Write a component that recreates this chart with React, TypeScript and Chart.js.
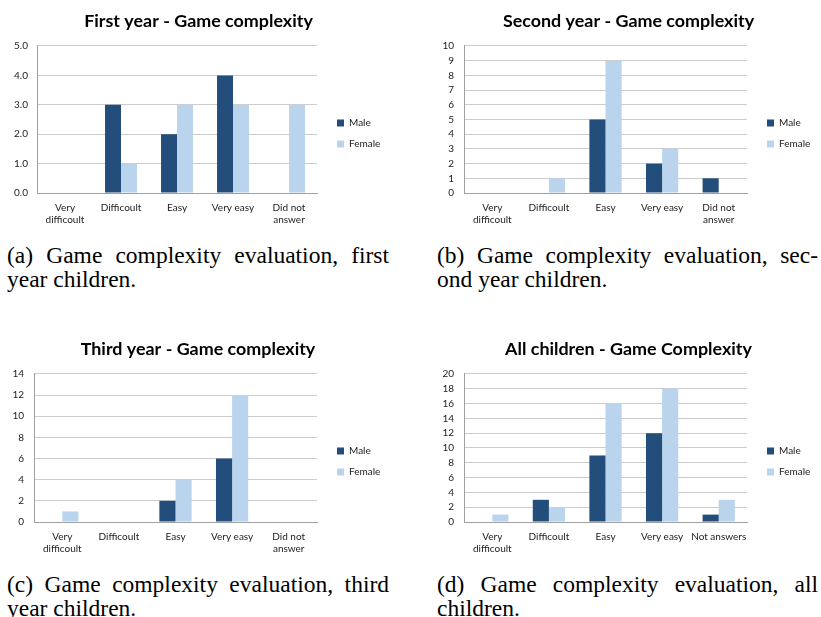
import React, { useEffect, useRef } from 'react';
import { Chart, registerables } from 'chart.js';

Chart.register(...registerables);

// ---------- data ----------
const CATEGORIES: (string | string[])[] = [['Very', 'difficoult'], 'Difficoult', 'Easy', 'Very easy', ['Did not', 'answer']];
const CATEGORIES_ALL: (string | string[])[] = [['Very', 'difficoult'], 'Difficoult', 'Easy', 'Very easy', 'Not answers'];
const SERIES_NAMES = ['Male', 'Female'];

const MALE_FIRST = [0, 3, 2, 4, 0];
const FEMALE_FIRST = [0, 1, 3, 3, 3];
const MALE_SECOND = [0, 0, 5, 2, 1];
const FEMALE_SECOND = [0, 1, 9, 3, 0];
const MALE_THIRD = [0, 0, 2, 6, 0];
const FEMALE_THIRD = [1, 0, 4, 12, 0];
const MALE_ALL = [0, 3, 9, 12, 1];
const FEMALE_ALL = [1, 2, 16, 18, 3];

const TITLES = [
  'First year - Game complexity',
  'Second year - Game complexity',
  'Third year - Game complexity',
  'All children - Game Complexity',
];
const Y_MAX = [5, 10, 14, 20];
const Y_STEP = [1, 1, 2, 2];
const Y_DECIMALS = [1, 0, 0, 0];

const CAPTIONS: [string, string][] = [
  ['(a) Game complexity evaluation, first', 'year children.'],
  ['(b) Game complexity evaluation, sec-', 'ond year children.'],
  ['(c) Game complexity evaluation, third', 'year children.'],
  ['(d) Game complexity evaluation, all', 'children.'],
];

// ---------- style ----------
const MALE_COLOR = '#234d7a';
const FEMALE_COLOR = '#b9d4ec';
const GRID_COLOR = '#cccccc';
const AXIS_COLOR = '#a0a0a0';
const TEXT_COLOR = '#222222';
const FONT = 'Lato, "Open Sans", sans-serif';
const LEG_PAD = 11;
const LEG_FS = 10;

const legendFix: any = {
  id: 'legendFix',
  beforeLayout(chart: any, _args: any, opts: any) {
    const lg = chart.legend;
    if (lg && !lg.__fixed) {
      const orig = lg.fit.bind(lg);
      lg.fit = function () {
        orig();
        lg.width = opts.width;
      };
      lg.__fixed = true;
    }
  },
  afterLayout(chart: any, _args: any, opts: any) {
    const lg = chart.legend;
    const ca = chart.chartArea;
    if (!lg || !ca) return;
    lg.left = ca.right + opts.dx - LEG_PAD;
    lg.right = lg.left + opts.width;
    const top = opts.cy - LEG_PAD - LEG_FS / 2;
    lg.top = top;
    lg.bottom = top + 200;
  },
};

interface PanelProps {
  idx: number;
  labels: (string | string[])[];
  male: number[];
  female: number[];
  left: number;
  top: number;
  width: number;
  height: number;
  yWidth: number;
  yPad: number;
  plotRight: number;
  xAxisH: number;
}

function Panel(p: PanelProps) {
  const ref = useRef<HTMLCanvasElement | null>(null);
  useEffect(() => {
    if (!ref.current) return;
    const legendW = p.left + p.width - p.plotRight;
    const dec = Y_DECIMALS[p.idx];
    const chart = new Chart(ref.current, {
      type: 'bar',
      data: {
        labels: p.labels as any,
        datasets: [
          {
            label: SERIES_NAMES[0],
            data: p.male,
            backgroundColor: MALE_COLOR,
            categoryPercentage: 0.57,
            barPercentage: 1,
          },
          {
            label: SERIES_NAMES[1],
            data: p.female,
            backgroundColor: FEMALE_COLOR,
            categoryPercentage: 0.57,
            barPercentage: 1,
          },
        ],
      },
      options: {
        responsive: false,
        animation: false,
        devicePixelRatio: 1,
        layout: { padding: 0 },
        plugins: {
          title: {
            display: true,
            text: TITLES[p.idx],
            color: '#000000',
            font: { family: FONT, size: 17.9, weight: 'bold' },
            padding: { top: 10.3, bottom: 14.2 },
          },
          legend: {
            position: 'right',
            align: 'start',
            labels: {
              boxWidth: 7,
              boxHeight: 7,
              padding: LEG_PAD,
              color: TEXT_COLOR,
              font: { family: FONT, size: LEG_FS },
            },
          },
          tooltip: { enabled: false },
          legendFix: { width: legendW, dx: 20, cy: 123 },
        } as any,
        scales: {
          x: {
            grid: { display: false, drawTicks: false },
            border: { display: true, color: AXIS_COLOR },
            ticks: {
              color: TEXT_COLOR,
              font: { family: FONT, size: 10 },
              padding: 9,
              maxRotation: 0,
              autoSkip: false,
            },
            afterFit: (s: any) => {
              s.height = p.xAxisH;
            },
          },
          y: {
            min: 0,
            max: Y_MAX[p.idx],
            grid: { color: GRID_COLOR, drawTicks: false },
            border: { display: true, color: AXIS_COLOR },
            ticks: {
              stepSize: Y_STEP[p.idx],
              autoSkip: false,
              color: TEXT_COLOR,
              font: { family: FONT, size: 10 },
              padding: p.yPad,
              callback: (v: any) => Number(v).toFixed(dec),
            },
            afterFit: (s: any) => {
              s.width = p.yWidth;
            },
          },
        },
      } as any,
      plugins: [legendFix],
    });
    return () => chart.destroy();
  }, []);
  return (
    <canvas
      ref={ref}
      width={p.width}
      height={p.height}
      style={{ position: 'absolute', left: p.left, top: p.top, width: p.width, height: p.height }}
    />
  );
}

function Caption({ lines, left, top, width }: { lines: [string, string]; left: number; top: number; width: number }) {
  const base: React.CSSProperties = {
    position: 'absolute',
    left,
    width,
    fontFamily: '"Liberation Serif", serif',
    fontSize: 23.5,
    lineHeight: '24px',
    color: '#000',
    whiteSpace: 'nowrap',
  };
  return (
    <>
      <div style={{ ...base, top, textAlign: 'justify', textAlignLast: 'justify' } as any}>{lines[0]}</div>
      <div style={{ ...base, top: top + 24, textAlign: 'left' }}>{lines[1]}</div>
    </>
  );
}

export default function App() {
  return (
    <div
      style={{
        position: 'absolute',
        left: 0,
        top: 0,
        width: 821,
        height: 617,
        overflow: 'hidden',
        background: '#ffffff',
      }}
    >
      <Panel idx={0} labels={CATEGORIES} male={MALE_FIRST} female={FEMALE_FIRST}
        left={0} top={0} width={397} height={232} yWidth={37} yPad={9} plotRight={317} xAxisH={39} />
      <Panel idx={1} labels={CATEGORIES} male={MALE_SECOND} female={FEMALE_SECOND}
        left={440} top={0} width={377} height={232} yWidth={24} yPad={10} plotRight={747} xAxisH={39} />
      <Panel idx={2} labels={CATEGORIES} male={MALE_THIRD} female={FEMALE_THIRD}
        left={0} top={328} width={396} height={232} yWidth={34} yPad={10} plotRight={317} xAxisH={38} />
      <Panel idx={3} labels={CATEGORIES_ALL} male={MALE_ALL} female={FEMALE_ALL}
        left={440} top={328} width={377} height={232} yWidth={24} yPad={10} plotRight={747} xAxisH={38} />
      <Caption lines={CAPTIONS[0]} left={7} top={243} width={382} />
      <Caption lines={CAPTIONS[1]} left={437} top={243} width={381} />
      <Caption lines={CAPTIONS[2]} left={7} top={572} width={382} />
      <Caption lines={CAPTIONS[3]} left={437} top={572} width={381} />
    </div>
  );
}
